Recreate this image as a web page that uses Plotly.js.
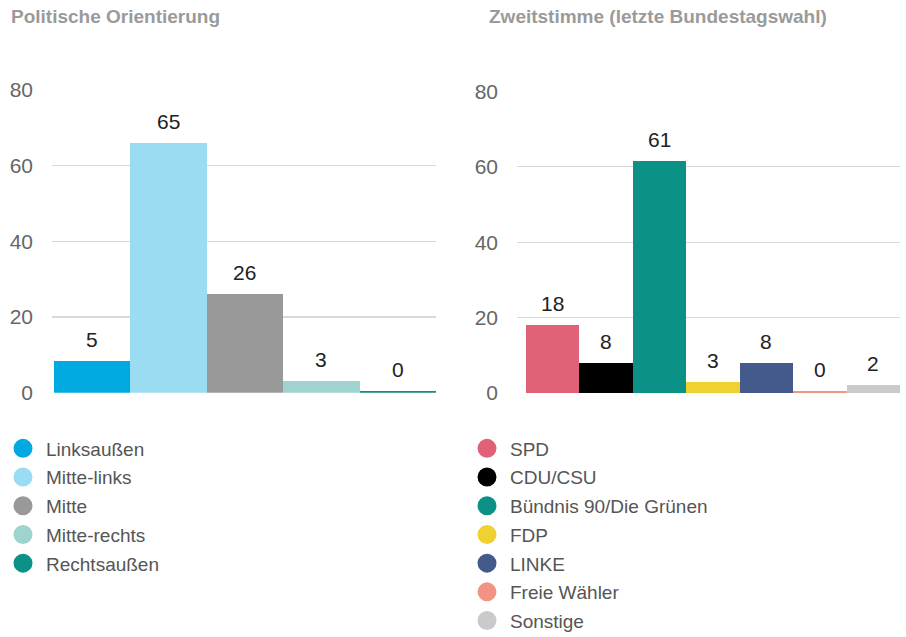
<!DOCTYPE html>
<html>
<head>
<meta charset="utf-8">
<script src="https://cdn.plot.ly/plotly-3.0.1.min.js"></script>
<style>html,body{margin:0;padding:0;background:#fff;overflow:hidden}#chart{width:906px;height:660px}</style>
</head>
<body>
<div id="chart"></div>
<script>
// ---- Data ----
const orientCategories = ["Linksaußen", "Mitte-links", "Mitte", "Mitte-rechts", "Rechtsaußen"];
const orientValues = [8.4, 66, 26, 3.1, 0.5];        // bar heights as drawn
const orientLabels = ["5", "65", "26", "3", "0"];     // printed labels
const orientColors = ["#00a9e0", "#9cdcf2", "#999999", "#9fd3ce", "#0b9185"];

const voteCategories = ["SPD", "CDU/CSU", "Bündnis 90/Die Grünen", "FDP", "LINKE", "Freie Wähler", "Sonstige"];
const voteValues = [18, 8, 61.6, 3, 8, 0.5, 2];
const voteLabels = ["18", "8", "61", "3", "8", "0", "2"];
const voteColors = ["#e06277", "#000000", "#0b9185", "#efd232", "#44598c", "#f29484", "#cacaca"];

const yTicks = [0, 20, 40, 60, 80];

const FONT = "Liberation Sans, Arial, sans-serif";
// the figure is drawn a little taller than the 637px window so the long legend fits; the bottom strip is empty
const W = 906, H = 660;

const traces = [];
const annotations = [];

function addChart(cats, vals, labels, colors, xa, ya, legendName) {
  cats.forEach((c, i) => {
    traces.push({
      type: "bar", x: [i], y: [vals[i]], xaxis: xa, yaxis: ya,
      marker: {color: colors[i], line: {width: 0}},
      width: 1, showlegend: false, hoverinfo: "skip", name: c
    });
    annotations.push({
      xref: xa, yref: ya, x: i, y: vals[i], text: labels[i], showarrow: false,
      yanchor: "middle", yshift: 21.5, font: {family: FONT, size: 21, color: "#222"}
    });
  });
  cats.forEach((c, i) => {
    traces.push({
      type: "scatter", mode: "markers", x: [null], y: [null], xaxis: xa, yaxis: ya,
      name: c, legend: legendName, legendgroup: legendName + i,
      marker: {color: colors[i], size: 16, symbol: "circle", line: {color: colors[i], width: 3}},
      hoverinfo: "skip"
    });
  });
}

addChart(orientCategories, orientValues, orientLabels, orientColors, "x", "y", "legend");
addChart(voteCategories, voteValues, voteLabels, voteColors, "x2", "y2", "legend2");

annotations.push({
  xref: "paper", yref: "paper", x: 9 / W, y: (H - 16.5) / H, xanchor: "left", yanchor: "middle",
  text: "<b>Politische Orientierung</b>", showarrow: false, font: {family: FONT, size: 19, color: "#9a9a9a"}
});
annotations.push({
  xref: "paper", yref: "paper", x: 487 / W, y: (H - 16.5) / H, xanchor: "left", yanchor: "middle",
  text: "<b>Zweitstimme (letzte Bundestagswahl)</b>", showarrow: false, font: {family: FONT, size: 19, color: "#9a9a9a"}
});

const yaxisCommon = {
  range: [0, 80], tickvals: yTicks, ticktext: yTicks.map(String),
  showgrid: true, gridcolor: "#d8d8d8", gridwidth: 1.2, zeroline: false, showline: false,
  ticks: "", ticklabelstandoff: 18, tickfont: {family: FONT, size: 21, color: "#666"}, fixedrange: true
};
const xaxisCommon = {showgrid: false, zeroline: false, showline: false, showticklabels: false, ticks: "", fixedrange: true};

const legendCommon = {
  orientation: "v", xanchor: "left", yanchor: "top", traceorder: "grouped", tracegroupgap: 1,
  itemwidth: 36,
  font: {family: FONT, size: 19, color: "#555"}, bgcolor: "rgba(0,0,0,0)", borderwidth: 0, itemclick: false
};

const layout = {
  width: W, height: H, margin: {l: 0, r: 0, t: 0, b: 0},
  paper_bgcolor: "#fff", plot_bgcolor: "#fff", barmode: "overlay", bargap: 0,
  font: {family: FONT},
  xaxis: Object.assign({}, xaxisCommon, {domain: [52 / W, 436 / W], range: [-0.526, 4.5], anchor: "y"}),
  yaxis: Object.assign({}, yaxisCommon, {domain: [(H - 392.7) / H, (H - 90) / H], anchor: "x"}),
  xaxis2: Object.assign({}, xaxisCommon, {domain: [517 / W, 900 / W], range: [-0.669, 6.5], anchor: "y2"}),
  yaxis2: Object.assign({}, yaxisCommon, {domain: [(H - 393) / H, (H - 91.5) / H], anchor: "x2"}),
  legend: Object.assign({}, legendCommon, {x: 0, y: (H - 429.5) / H}),
  legend2: Object.assign({}, legendCommon, {x: 464 / W, y: (H - 429.5) / H}),
  annotations: annotations,
  showlegend: true
};

Plotly.newPlot("chart", traces, layout, {staticPlot: true, displayModeBar: false});
</script>
</body>
</html>
